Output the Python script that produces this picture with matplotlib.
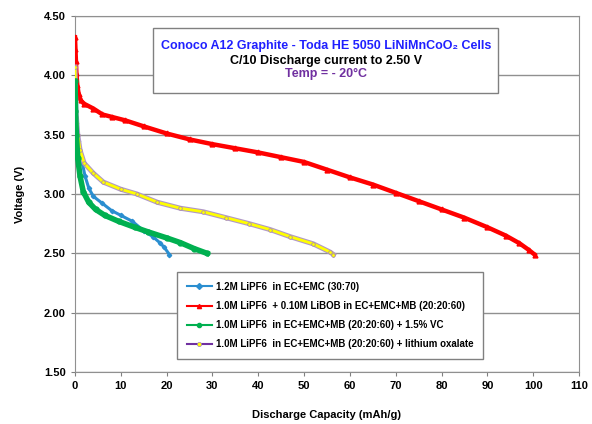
import matplotlib
matplotlib.use("Agg")
import matplotlib.pyplot as plt
from matplotlib.patches import Rectangle

plt.rcParams['font.family'] = ['Liberation Sans', 'DejaVu Sans']
plt.rcParams['font.weight'] = 'bold'

# discharge curves (capacity mAh/g, voltage V)
blue_x = [0, 0.1, 0.3, 0.6, 1.1, 1.6, 2.2, 3.0, 4.0, 6.0, 8.0, 10.0, 12.5, 15.0, 17.0, 18.5, 19.5, 20.6]
blue_y = [4.00, 3.80, 3.60, 3.45, 3.34, 3.26, 3.15, 3.05, 2.98, 2.92, 2.86, 2.82, 2.77, 2.69, 2.64, 2.59, 2.55, 2.49]

red_x = [0, 0.1, 0.2, 0.3, 0.5, 0.8, 1.2, 2, 4, 6, 8, 11, 15, 20, 25, 30, 35, 40, 45,
         50, 55, 60, 65, 70, 75, 80, 85, 90, 94, 97, 99, 100.3]
red_y = [4.32, 4.22, 4.12, 4.02, 3.92, 3.84, 3.79, 3.76, 3.72, 3.67, 3.65, 3.62, 3.57, 3.51, 3.46, 3.42, 3.385, 3.35, 3.31,
         3.27, 3.205, 3.14, 3.08, 3.01, 2.94, 2.87, 2.80, 2.72, 2.65, 2.585, 2.53, 2.49]

green_x = [0, 0.1, 0.3, 0.6, 1.1, 1.8, 3.0, 4.5, 6.5, 9.5, 13, 16, 20, 23, 26, 28.8]
green_y = [3.95, 3.70, 3.50, 3.30, 3.15, 3.02, 2.93, 2.87, 2.82, 2.77, 2.72, 2.68, 2.63, 2.59, 2.54, 2.50]

yellow_x = [0, 0.1, 0.3, 0.6, 1.1, 2, 4, 6.2, 10, 13.5, 18, 23, 28, 33, 38, 42.6, 47, 52, 55.7, 56.4]
yellow_y = [4.07, 3.85, 3.65, 3.50, 3.37, 3.26, 3.175, 3.10, 3.04, 3.00, 2.93, 2.88, 2.85, 2.80, 2.75, 2.70, 2.64, 2.58, 2.51, 2.49]

labels = ["1.2M LiPF6  in EC+EMC (30:70)",
          "1.0M LiPF6  + 0.10M LiBOB in EC+EMC+MB (20:20:60)",
          "1.0M LiPF6  in EC+EMC+MB (20:20:60) + 1.5% VC",
          "1.0M LiPF6  in EC+EMC+MB (20:20:60) + lithium oxalate"]

x_ticks = list(range(0, 111, 10))
y_ticks = [1.50, 2.00, 2.50, 3.00, 3.50, 4.00, 4.50]

fig = plt.figure(figsize=(5.92, 4.24), dpi=100)
ax = fig.add_axes([0.1267, 0.1226, 0.8513, 0.8397])

ax.plot(blue_x, blue_y, color='#2a8ed0', lw=2.2, marker='D', ms=2.2, label=labels[0], zorder=3)
ax.plot(red_x, red_y, color='#ff0000', lw=3.2, marker='^', ms=3.5, label=labels[1], zorder=3)
ax.plot(green_x, green_y, color='#00b050', lw=4, marker='o', ms=3.5, label=labels[2], zorder=4)
# lithium oxalate: yellow dots with lavender rims form a band
ax.plot(yellow_x, yellow_y, color='#b098c8', lw=3.6, zorder=3)
ax.plot(yellow_x, yellow_y, color='#ffff00', lw=2, marker='o', ms=2.6, mfc='#ffff00',
        mec='#a080c0', mew=0.5, label=labels[3], zorder=3.1)

ax.set_xlim(0, 110)
ax.set_ylim(1.5, 4.5)
ax.set_xticks(x_ticks)
ax.set_yticks(y_ticks)
ax.set_yticklabels([f"{v:.2f}" for v in y_ticks])
ax.tick_params(labelsize=8, length=3, color='#808080')
ax.yaxis.grid(True, color='#909090', lw=1)
for s in ax.spines.values():
    s.set_color('#909090')
ax.set_axisbelow(True)

ax.set_xlabel("Discharge Capacity (mAh/g)", fontsize=8, fontweight='bold', labelpad=14)
ax.set_ylabel("Voltage (V)", fontsize=8, fontweight='bold', labelpad=14)

# title box inside the plot
ax.add_patch(Rectangle((0.155, 0.784), 0.684, 0.182, transform=ax.transAxes,
                       facecolor='white', edgecolor='#808080', lw=1, zorder=5))
ax.text(0.498, 0.916, "Conoco A12 Graphite - Toda HE 5050 LiNiMnCoO\u2082 Cells", transform=ax.transAxes,
        ha='center', va='center', fontsize=9, color='#2020ff', fontweight='bold', zorder=6)
ax.text(0.498, 0.874, "C/10 Discharge current to 2.50 V", transform=ax.transAxes,
        ha='center', va='center', fontsize=9, color='black', fontweight='bold', zorder=6)
ax.text(0.498, 0.837, "Temp = - 20\u00b0C", transform=ax.transAxes,
        ha='center', va='center', fontsize=9, color='#7030a0', fontweight='bold', zorder=6)

leg = ax.legend(loc='upper left', bbox_to_anchor=(0.202, 0.281), fontsize=7, frameon=True,
                fancybox=False, edgecolor='#808080', framealpha=1, handlelength=2.6,
                handletextpad=0.4, borderpad=1.0, labelspacing=0.95, borderaxespad=0)
leg.get_frame().set_linewidth(1)
for line in leg.get_lines():
    line.set_linewidth(1.5)
    line.set_markersize(3)
leg.get_lines()[3].set_color('#7030a0')

fig.savefig("out.png", dpi=100)
